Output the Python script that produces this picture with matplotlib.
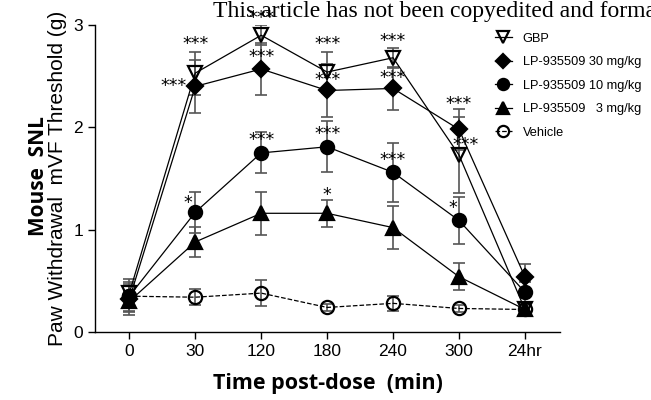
import numpy as np
import matplotlib.pyplot as plt

# time points (categorical positions)
time_labels = ["0", "30", "120", "180", "240", "300", "24hr"]

gbp = [0.38, 2.53, 2.90, 2.54, 2.68, 1.73, 0.22]
gbp_err = [0.14, 0.21, 0.10, 0.20, 0.10, 0.37, 0.05]

lp30 = [0.32, 2.40, 2.57, 2.36, 2.38, 1.98, 0.54]
lp30_err = [0.15, 0.26, 0.25, 0.26, 0.21, 0.20, 0.12]

lp10 = [0.35, 1.17, 1.75, 1.81, 1.56, 1.09, 0.39]
lp10_err = [0.14, 0.20, 0.20, 0.25, 0.29, 0.23, 0.10]

lp3 = [0.30, 0.88, 1.16, 1.16, 1.02, 0.54, 0.22]
lp3_err = [0.10, 0.15, 0.21, 0.13, 0.21, 0.13, 0.05]

vehicle = [0.35, 0.34, 0.38, 0.24, 0.28, 0.23, 0.22]
vehicle_err = [0.10, 0.08, 0.13, 0.03, 0.07, 0.03, 0.04]

# significance marks: (series, time index, text, dx, dy from the mean)
stars = [
    ("gbp", 1, "***", 0.0, 0.28),
    ("lp30", 1, "***", -0.33, 0.0),
    ("lp10", 1, "*", -0.12, 0.09),
    ("gbp", 2, "***", 0.0, 0.17),
    ("lp30", 2, "***", 0.0, 0.12),
    ("lp10", 2, "***", 0.0, 0.13),
    ("gbp", 3, "***", 0.0, 0.27),
    ("lp30", 3, "***", 0.0, 0.10),
    ("lp10", 3, "***", 0.0, 0.12),
    ("lp3", 3, "*", 0.0, 0.18),
    ("gbp", 4, "***", 0.0, 0.16),
    ("lp30", 4, "***", 0.0, 0.10),
    ("lp10", 4, "***", 0.0, 0.12),
    ("lp30", 5, "***", 0.0, 0.25),
    ("gbp", 5, "***", 0.1, 0.10),
    ("lp10", 5, "*", -0.1, 0.12),
]

plt.rcParams["font.family"] = ["Liberation Sans", "DejaVu Sans"]

fig = plt.figure(figsize=(6.51, 4.0), dpi=100)
ax = fig.add_axes([0.146, 0.17, 0.714, 0.7675])

x = np.arange(len(time_labels))
ecol = "#555555"

series = {
    "gbp": (gbp, gbp_err),
    "lp30": (lp30, lp30_err),
    "lp10": (lp10, lp10_err),
    "lp3": (lp3, lp3_err),
    "vehicle": (vehicle, vehicle_err),
}

styles = [
    ("vehicle", "Vehicle", "o", "none", "--"),
    ("lp3", "LP-935509   3 mg/kg", "^", "black", "-"),
    ("lp10", "LP-935509 10 mg/kg", "o", "black", "-"),
    ("lp30", "LP-935509 30 mg/kg", "D", "black", "-"),
    ("gbp", "GBP", "v", "none", "-"),
]

handles = {}
for key, label, marker, face, ls in styles:
    y, e = series[key]
    ax.errorbar(x, y, yerr=e, fmt="none", ecolor=ecol, elinewidth=1.2,
                capsize=4.5, capthick=1.2, zorder=2)
    ms = 8.5 if marker == "D" else 9.5
    h, = ax.plot(x, y, color="black", linestyle=ls, linewidth=0.9,
                 marker=marker, markersize=ms, markerfacecolor=face,
                 markeredgecolor="black", markeredgewidth=1.6, zorder=3,
                 label=label)
    handles[key] = h

for key, idx, txt, dx, dy in stars:
    y, e = series[key]
    ax.text(x[idx] + dx, y[idx] + dy, txt, ha="center", va="center",
            fontsize=12.5, family="DejaVu Sans", zorder=5)

ax.set_xlim(-0.52, 6.53)
ax.set_ylim(0, 3)
ax.set_yticks([0, 1, 2, 3])
ax.set_xticks(x)
ax.set_xticklabels(time_labels)
ax.tick_params(labelsize=12.5, width=1, length=5, direction="out")
for s in ["top", "right"]:
    ax.spines[s].set_visible(False)
ax.spines["left"].set_linewidth(1)
ax.spines["bottom"].set_linewidth(1)

ax.set_xlabel("Time post-dose  (min)", fontsize=15.5, fontweight="bold",
              family="Open Sans", labelpad=10)
ax.set_ylabel("Paw Withdrawal  mVF Threshold (g)", fontsize=15, labelpad=5)
fig.text(0.059, 0.56, "Mouse  SNL", rotation=90, ha="center", va="center",
         fontsize=15, fontweight="bold", family="Open Sans")

order = ["gbp", "lp30", "lp10", "lp3", "vehicle"]
fig.legend([handles[k] for k in order], [handles[k].get_label() for k in order],
           loc="upper left", bbox_to_anchor=(0.742, 0.947), frameon=False,
           fontsize=9.2, handlelength=1.4, labelspacing=0.9, handletextpad=0.8,
           markerscale=0.85)

fig.text(0.327, 0.998, "This article has not been copyedited and formatted",
         ha="left", va="top", fontsize=17, family="Liberation Serif")

fig.savefig("out.png", dpi=100)
